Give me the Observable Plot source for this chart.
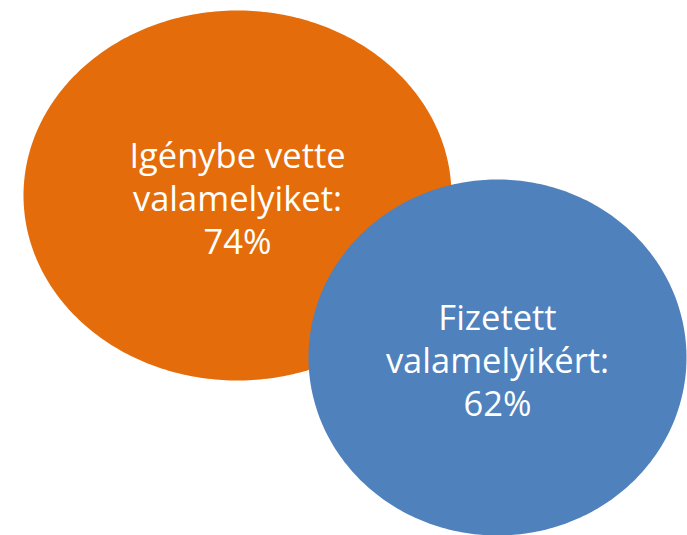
<!DOCTYPE html>
<html>
<head>
<meta charset="utf-8">
<script src="https://cdn.jsdelivr.net/npm/d3@7"></script>
<script src="https://cdn.jsdelivr.net/npm/@observablehq/plot@0.6"></script>
<style>
html,body{margin:0;padding:0;background:#fff;}
</style>
</head>
<body>
<div id="chart"></div>
<script>
const labels = ["Igénybe vette\nvalamelyiket:", "Fizetett\nvalamelyikért:"];
const values = [74, 62];
const colors = ["#E46C0A", "#4F81BD"];
// layout (pixel units in the chart's coordinate frame)
const centersX = [237, 497];
const centersY = [195, 357];
const radiiX = [214, 189];
const radiiY = [185, 178];
const textY = [197, 359];

const W = 687, H = 535;
const N = 360;
const outline = [];
labels.forEach((l, i) => {
  for (let k = 0; k < N; k++) {
    const t = (k / N) * 2 * Math.PI;
    outline.push({set: i, x: centersX[i] + radiiX[i] * Math.cos(t), y: centersY[i] + radiiY[i] * Math.sin(t)});
  }
});
const textData = labels.map((l, i) => ({text: l + "\n" + values[i] + "%", x: centersX[i], y: textY[i]}));

const chart = Plot.plot({
  width: W, height: H,
  margin: 0,
  x: {domain: [0, W], range: [0, W], axis: null},
  y: {domain: [0, H], range: [0, H], axis: null},
  style: {fontFamily: "'Open Sans', sans-serif", background: "#fff"},
  marks: [
    Plot.line(outline.filter(d => d.set === 0), {x: "x", y: "y", curve: "linear-closed", fill: colors[0], stroke: "none"}),
    Plot.line(outline.filter(d => d.set === 1), {x: "x", y: "y", curve: "linear-closed", fill: colors[1], stroke: "none"}),
    Plot.text(textData, {x: "x", y: "y", text: "text", fill: "white", fontSize: 34.5, lineHeight: 1.25, textAnchor: "middle"})
  ]
});
document.getElementById("chart").appendChild(chart);
</script>
</body>
</html>
